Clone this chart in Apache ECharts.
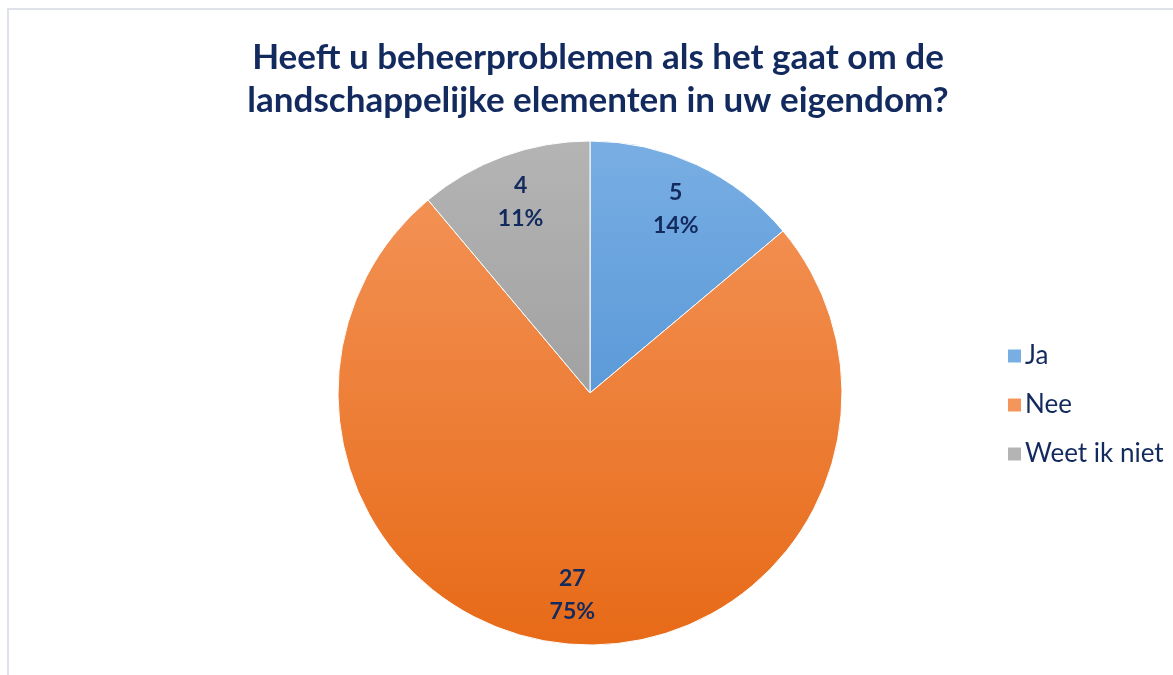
<!DOCTYPE html>
<html>
<head>
<meta charset="utf-8">
<script src="https://cdn.jsdelivr.net/npm/echarts@6/dist/echarts.min.js"></script>
<style>
  html, body { margin: 0; padding: 0; background: #fff; overflow: hidden; }
  #frame { position: absolute; left: 7px; top: 8px; width: 1200px; height: 700px; border: 2px solid #dfe3e9; box-sizing: border-box; }
  #chart { position: absolute; left: 0; top: 0; width: 1173px; height: 675px; }
</style>
</head>
<body>
<div id="frame"></div>
<div id="chart"></div>
<script>
// antwoorden en aantallen
var categories = ["Ja", "Nee", "Weet ik niet"];
var counts = [5, 27, 4];
var titleLines = ["Heeft u beheerproblemen als het gaat om de", "landschappelijke elementen in uw eigendom?"];

var navy = "#122a5e";
var font = "Lato, 'Open Sans', sans-serif";
var pieTop = 141, pieBottom = 645; // gradient over de hele cirkel, zoals in Excel

function grad(top, bottom) {
  return new echarts.graphic.LinearGradient(0, pieTop, 0, pieBottom, [
    { offset: 0, color: top },
    { offset: 1, color: bottom }
  ], true);
}
var fills = [grad("#78aee3", "#3f85ce"), grad("#f4965c", "#e76a17"), grad("#b4b4b4", "#8f8f8f")];

var total = counts.reduce(function (a, b) { return a + b; }, 0);
var pieData = categories.map(function (c, i) {
  return { name: c, value: counts[i], itemStyle: { color: fills[i] } };
});

var chart = echarts.init(document.getElementById("chart"));
chart.setOption({
  animation: false,
  title: {
    text: titleLines.join("\n"),
    left: 593,
    textAlign: "center",
    top: 31,
    textStyle: { color: navy, fontFamily: font, fontWeight: "bold", fontSize: 35, lineHeight: 43 }
  },
  legend: {
    orient: "vertical",
    left: 1001,
    top: 338,
    itemWidth: 15,
    itemHeight: 15,
    itemGap: 23,
    icon: "rect",
    data: categories,
    textStyle: { color: navy, fontFamily: font, fontSize: 26, padding: [0, 0, 0, -2] }
  },
  series: [
    {
      type: "pie",
      center: [590, 393],
      radius: [0, 252],
      startAngle: 90,
      clockwise: true,
      label: { show: false },
      itemStyle: { borderColor: "#fff", borderWidth: 1 },
      emphasis: { disabled: true },
      data: pieData
    },
    {
      // onzichtbare ring, alleen om de labels op ~80% van de straal te zetten
      type: "pie",
      center: [590, 393],
      radius: [148, 252],
      startAngle: 90,
      clockwise: true,
      silent: true,
      legendHoverLink: false,
      itemStyle: { color: "rgba(0,0,0,0)" },
      label: {
        show: true,
        position: "inside",
        color: navy,
        fontFamily: font,
        fontWeight: "bold",
        fontSize: 23,
        lineHeight: 33,
        formatter: function (p) {
          return p.value + "\n" + Math.round(p.value / total * 100) + "%";
        }
      },
      emphasis: { disabled: true },
      data: categories.map(function (c, i) { return { name: c + " ", value: counts[i] }; })
    }
  ]
});
</script>
</body>
</html>
